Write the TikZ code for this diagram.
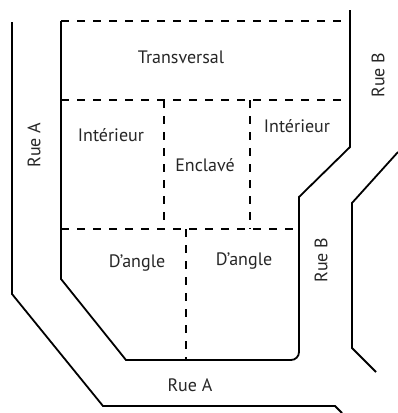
\documentclass[tikz,border=0pt]{standalone}
\usepackage{fontspec}
\setmainfont{PT Sans}
\usepackage{tikz}
\usetikzlibrary{positioning}
\tikzstyle{street} = [line width=1.8pt, line join=miter, color=black]
\tikzstyle{lotline} = [line width=1.8pt, dash pattern=on 8pt off 8pt, color=black]
\tikzstyle{lotlabel} = [font=\fontsize{18}{21}\selectfont, text=black!85, inner sep=0pt]
\tikzstyle{ruelabel} = [lotlabel, rotate=90]

\begin{document}
\begin{tikzpicture}[x=1pt, y=-1pt]
\useasboundingbox (0,0) rectangle (398,413);
% Streets
\draw[street] (12,22) -- (12,294) -- (103,406) -- (335,406) -- (342,413);
\draw[street] (398,152) -- (352,203) -- (352,348) -- (376,372);
% Block
\draw[street] (350,10) -- (350,147) -- (299,197) -- (299,352) arc[start angle=0, end angle=90, radius=8] -- (126,360) -- (61,279) -- (61,21);
% Lots
\draw[lotline] (61,21) -- (350,21);
\draw[lotline] (61,100) -- (350,100);
\draw[lotline] (61,229) -- (299,229);
\draw[lotline] (164,100) -- (164,229);
\draw[lotline] (250,100) -- (250,229);
\draw[lotline] (186,229) -- (186,360);
% Labels
\node[lotlabel] (transversal) at (181,57) {Transversal};
\node[lotlabel] (interieurA) at (111,135) {Intérieur};
\node[lotlabel] (enclave) at (205,165) {Enclavé};
\node[lotlabel] (interieurB) at (297,126) {Intérieur};
\node[lotlabel] (angleA) at (137,263) {D’angle};
\node[lotlabel] (angleB) at (244,261) {D’angle};
\node[lotlabel] (rueA) at (190,385) {Rue A};
\node[ruelabel] (rueAside) at (34,145) {Rue A};
\node[ruelabel] (rueBtop) at (378,75) {Rue B};
\node[ruelabel] (rueBside) at (321,260) {Rue B};
\end{tikzpicture}
\end{document}
